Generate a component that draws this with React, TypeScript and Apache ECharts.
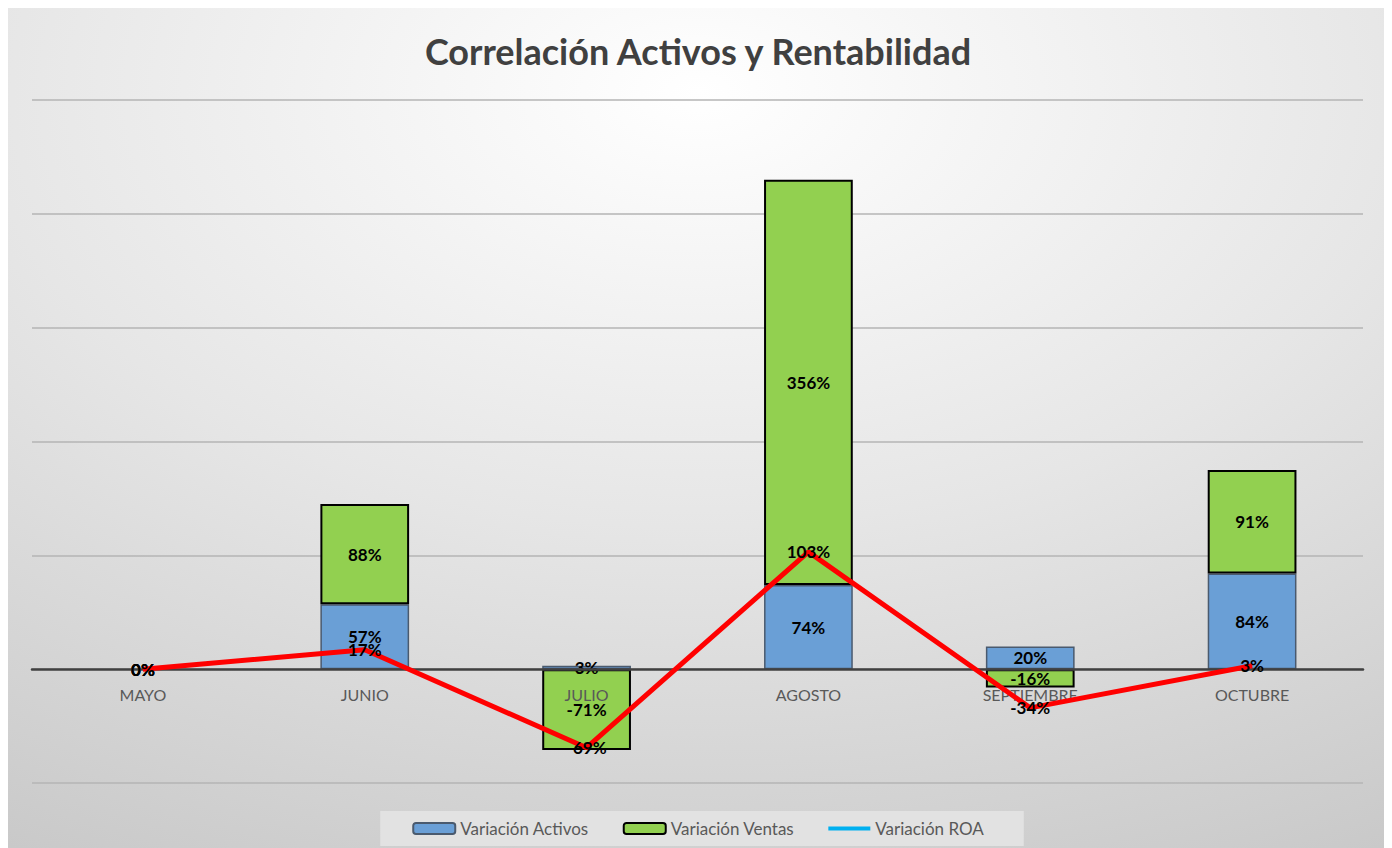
import React, { useEffect, useRef } from "react";
import * as echarts from "echarts";

const categories = ["MAYO", "JUNIO", "JULIO", "AGOSTO", "SEPTIEMBRE", "OCTUBRE"];
const activos = [0, 57, 3, 74, 20, 84];
const ventas = [0, 88, -71, 356, -16, 91];
const roa = [0, 17, -69, 103, -34, 3];
const yTicks = { min: -100, max: 500, interval: 100 };

const FONT = "Lato, 'Open Sans', sans-serif";

export default function App() {
  const ref = useRef<HTMLDivElement>(null);
  useEffect(() => {
    if (!ref.current) return;
    const chart = echarts.init(ref.current, undefined, { renderer: "svg" });
    const labelStyle = {
      show: true,
      formatter: (p: any) => `${p.value}%`,
      color: "#000000",
      fontWeight: "bold" as const,
      fontSize: 17,
      fontFamily: FONT,
    };
    const noBorderZero = (arr: number[]) =>
      arr.map((v) => (v === 0 ? { value: v, itemStyle: { borderWidth: 0 } } : v));
    const plotBottom = 65;
    const zeroOffset = Math.round(((0 - yTicks.min) / (yTicks.max - yTicks.min)) * (840 - 92 - plotBottom));
    chart.setOption({
      animation: false,
      backgroundColor: {
        type: "radial",
        x: 0.5,
        y: 0.1,
        r: 1.15,
        colorStops: [
          { offset: 0, color: "#ffffff" },
          { offset: 0.45, color: "#e6e6e6" },
          { offset: 1, color: "#c2c2c2" },
        ],
      },
      textStyle: { fontFamily: FONT },
      title: {
        text: "Correlación Activos y Rentabilidad",
        left: "center",
        top: 20,
        textStyle: { fontSize: 36, fontWeight: "bold", color: "#404040", fontFamily: FONT },
      },
      legend: {
        bottom: 2,
        left: "center",
        backgroundColor: "#e2e2e2",
        padding: [9, 40, 9, 32],
        itemGap: 34,
        itemWidth: 42,
        itemHeight: 11,
        textStyle: { color: "#595959", fontSize: 17, fontFamily: FONT },
        data: [
          { name: "Variación Activos" },
          { name: "Variación Ventas" },
          {
            name: "Variación ROA",
            icon: "path://M0,0 L40,0 L40,4 L0,4 Z",
            itemStyle: { color: "#00B0F0" },
          },
        ],
      },
      grid: { left: 24, right: 25, top: 92, bottom: plotBottom, containLabel: false },
      xAxis: {
        type: "category",
        data: categories,
        offset: -zeroOffset,
        z: 3,
        axisLine: { onZero: false, lineStyle: { color: "#404040", width: 2.5 } },
        axisTick: { show: false },
        axisLabel: { color: "#595959", fontSize: 16, margin: 17, fontFamily: FONT },
      },
      yAxis: {
        type: "value",
        min: yTicks.min,
        max: yTicks.max,
        interval: yTicks.interval,
        axisLabel: { show: false },
        axisLine: { show: false },
        axisTick: { show: false },
        splitLine: { lineStyle: { color: "#b4b4b4", width: 1.5 } },
      },
      series: [
        {
          name: "Variación Activos",
          type: "bar",
          stack: "total",
          data: noBorderZero(activos),
          barWidth: "40%",
          itemStyle: { color: "#6A9FD6", borderColor: "#4A5A6E", borderWidth: 1.5 },
          label: { ...labelStyle, position: "inside" },
        },
        {
          name: "Variación Ventas",
          type: "bar",
          stack: "total",
          data: noBorderZero(ventas),
          barWidth: "40%",
          itemStyle: { color: "#92D050", borderColor: "#000000", borderWidth: 2 },
          label: { ...labelStyle, position: "inside" },
        },
        {
          name: "Variación ROA",
          type: "line",
          data: roa,
          symbol: "circle",
          symbolSize: 1,
          itemStyle: { color: "#FF0000" },
          lineStyle: { color: "#FF0000", width: 5 },
          label: { ...labelStyle, position: "inside" },
          z: 5,
        },
      ],
    });
    return () => chart.dispose();
  }, []);
  return <div ref={ref} style={{ width: 1380, height: 840 }} />;
}
